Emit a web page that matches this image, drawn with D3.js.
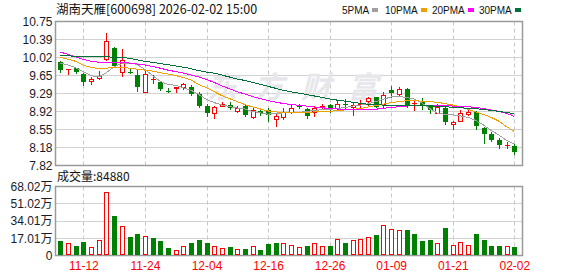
<!DOCTYPE html>
<html>
<head>
<meta charset="utf-8">
<script src="https://cdn.jsdelivr.net/npm/d3@7"></script>
<style>
  body { margin: 0; background: #fff; }
  svg { display: block; font-family: "Liberation Sans", "Noto Sans CJK SC", Arial, sans-serif; }
</style>
</head>
<body>
<svg id="chart" width="578" height="276"></svg>
<script>
// trading days shown (MM-DD)
const dates = ["11-07","11-10","11-11","11-12","11-13","11-14","11-17","11-18","11-19","11-20",
  "11-21","11-24","11-25","11-26","11-27","11-28","12-01","12-02","12-03","12-04",
  "12-05","12-08","12-09","12-10","12-11","12-12","12-15","12-16","12-17","12-18",
  "12-19","12-22","12-23","12-24","12-25","12-26","12-29","12-30","12-31","01-05",
  "01-06","01-07","01-08","01-09","01-12","01-13","01-14","01-15","01-16","01-19",
  "01-20","01-21","01-22","01-23","01-26","01-27","01-28","01-29","01-30","02-02"];

const openP = [9.92,9.78,9.80,9.69,9.54,9.60,9.99,10.21,9.73,9.715,
  9.66,9.31,9.575,9.51,9.33,9.405,9.42,9.42,9.285,9.03,
  8.885,9.04,9.05,8.93,9.04,8.81,8.93,8.945,8.775,8.80,
  8.90,9.025,8.97,8.905,9.03,9.06,8.98,9.08,9.005,9.07,
  9.13,9.205,9.07,9.35,9.27,9.37,9.095,9.13,9.04,8.89,
  8.99,8.66,8.73,8.865,8.90,8.59,8.47,8.33,8.23,8.21];
const highP = [9.94,9.78,9.81,9.70,9.625,9.74,10.51,10.23,10.20,9.80,
  9.77,9.77,9.66,9.53,9.39,9.41,9.495,9.46,9.31,9.075,
  9.035,9.12,9.115,9.035,9.06,8.98,8.97,8.99,8.87,8.98,
  9.055,9.07,8.99,9.04,9.075,9.08,9.15,9.18,9.12,9.155,
  9.22,9.22,9.32,9.43,9.41,9.40,9.17,9.19,9.05,9.08,
  9.035,8.73,8.95,8.94,8.925,8.60,8.50,8.37,8.29,8.25];
const lowP = [9.73,9.69,9.71,9.45,9.47,9.57,9.97,9.82,9.65,9.705,
  9.33,9.31,9.495,9.35,9.32,9.32,9.37,9.26,9.02,8.82,
  8.78,9.03,8.97,8.905,8.82,8.79,8.84,8.72,8.62,8.76,
  8.89,8.98,8.78,8.82,9.00,8.91,8.95,8.97,8.85,9.02,
  9.06,9.005,9.02,9.21,9.245,9.02,8.95,8.97,8.885,8.88,
  8.66,8.57,8.72,8.85,8.56,8.275,8.31,8.17,8.17,8.06];
const closeP = [9.77,9.78,9.72,9.52,9.59,9.645,10.36,9.835,9.97,9.705,
  9.42,9.69,9.58,9.37,9.32,9.41,9.47,9.285,9.04,8.885,
  9.007,9.08,9.00,9.00,8.84,8.95,8.88,8.85,8.83,8.90,
  8.995,9.02,8.83,9.00,9.04,8.98,9.075,9.07,9.05,9.10,
  9.20,9.02,9.255,9.29,9.385,9.055,9.10,9.05,8.945,9.02,
  8.70,8.71,8.89,8.91,8.62,8.465,8.335,8.235,8.24,8.09];

// volume in 万
const volume = [13.9,12.6,8.9,12.9,7.9,15.5,63.0,38.6,29.4,17.8,
  20.8,19.5,16.8,13.9,7.0,5.9,8.9,11.9,15.2,11.9,
  8.9,7.6,7.9,6.9,6.9,8.9,5.9,10.9,11.9,11.9,
  10.2,7.9,8.9,12.6,8.9,8.9,16.5,12.6,14.9,16.5,
  17.8,19.8,30.4,26.4,25.4,25.4,21.5,13.9,14.9,12.6,
  26.7,10.6,13.5,10.6,21.5,14.9,8.9,9.6,8.9,8.49];
// 1 = day closed up (red bar), 0 = down (green bar)
const volUp = [0,1,0,0,1,1,1,0,1,0, 0,1,0,0,0,1,1,0,0,0,
  1,1,0,1,0,1,0,0,0,1, 1,1,0,1,1,0,1,0,1,1,
  1,0,1,1,1,0,0,0,0,1, 0,1,1,1,0,0,0,0,1,0];

const ma5 = [9.90,9.865,9.81,9.73,9.65,9.62,9.71,9.83,9.895,9.905,
  9.875,9.775,9.65,9.53,9.47,9.45,9.40,9.35,9.265,9.165,
  9.10,9.05,9.02,8.99,8.97,8.92,8.89,8.865,8.88,8.89,
  8.90,8.90,8.92,8.94,8.955,8.96,8.98,9.00,9.03,9.05,
  9.075,9.12,9.17,9.215,9.225,9.205,9.17,9.09,8.98,8.885,
  8.86,8.85,8.83,8.80,8.735,8.645,8.53,8.44,8.33,8.255];
const ma10 = [10.02,9.98,9.94,9.86,9.82,9.79,9.80,9.82,9.82,9.80,
  9.78,9.76,9.74,9.71,9.68,9.65,9.61,9.56,9.47,9.40,
  9.32,9.24,9.18,9.12,9.06,9.01,8.97,8.93,8.91,8.90,
  8.90,8.90,8.90,8.91,8.915,8.92,8.94,8.95,8.96,8.98,
  9.01,9.04,9.07,9.10,9.12,9.14,9.135,9.13,9.12,9.105,
  9.08,9.05,9.01,8.96,8.91,8.86,8.80,8.72,8.61,8.51];
const ma20 = [10.13,10.08,10.03,9.98,9.94,9.92,9.91,9.92,9.92,9.905,
  9.885,9.865,9.835,9.80,9.76,9.73,9.70,9.66,9.62,9.57,
  9.51,9.44,9.38,9.32,9.275,9.22,9.18,9.14,9.11,9.08,
  9.06,9.045,9.03,9.01,8.995,8.98,8.97,8.96,8.955,8.955,
  8.96,8.965,8.985,9.00,9.015,9.03,9.04,9.045,9.045,9.04,
  9.035,9.03,9.025,9.015,9.00,8.98,8.95,8.92,8.88,8.82];
const ma30 = [10.05,10.05,10.045,10.04,10.04,10.035,10.03,10.025,10.02,10.00,
  9.97,9.94,9.92,9.895,9.87,9.845,9.82,9.79,9.75,9.72,
  9.70,9.66,9.62,9.58,9.55,9.51,9.47,9.43,9.39,9.35,
  9.32,9.29,9.265,9.235,9.205,9.175,9.15,9.13,9.105,9.085,
  9.065,9.055,9.05,9.045,9.04,9.045,9.045,9.04,9.035,9.025,
  9.015,9.005,8.995,8.985,8.975,8.96,8.94,8.92,8.90,8.875];

const priceTicks = [7.82, 8.18, 8.55, 8.92, 9.29, 9.65, 10.02, 10.39, 10.75];
const volTicks = [0, 17.01, 34.01, 51.02, 68.02];
const dateTicks = ["11-12","11-24","12-04","12-16","12-26","01-09","01-21","02-02"];
const maNames = ["5PMA", "10PMA", "20PMA", "30PMA"];

const titleText = "湖南天雁[600698] 2026-02-02 15:00";
const volLabel = "成交量:84880";

// ---- layout ----
const svg = d3.select("#chart");
const plotL = 55.5, plotR = 522.5;
const kTop = 21.5, kBot = 165.5;   // candle panel
const vTop = 186.5, vBot = 255.5;  // volume panel

const RED = "#ff0000", GREEN = "#008000";
const maColors = ["#a0a0a0", "#f0a000", "#ff00ff", "#006f3a"];

const x = d3.scalePoint().domain(dates).range([60.3, 514.3]);
const y = d3.scaleLinear().domain([7.82, 10.75]).range([kBot, kTop]);
const yv = d3.scaleLinear().domain([0, 68.02]).range([vBot, vTop]);

const cxOf = d => Math.round(x(d));
const snap = v => Math.floor(v) + 0.5;

// horizontal grid
const grid = svg.append("g").attr("stroke", "#d2d2d2").attr("stroke-width", 1);
grid.selectAll(".hk").data(priceTicks).join("line")
  .attr("x1", plotL).attr("x2", plotR)
  .attr("y1", d => snap(y(d))).attr("y2", d => snap(y(d)));
grid.selectAll(".hv").data(volTicks).join("line")
  .attr("x1", plotL).attr("x2", plotR)
  .attr("y1", d => snap(yv(d))).attr("y2", d => snap(yv(d)));

// vertical dashed grid at labelled dates
[[kTop, kBot], [vTop, vBot]].forEach(([t, b]) => {
  svg.append("g").selectAll("line").data(dateTicks).join("line")
    .attr("x1", d => cxOf(d) + 0.5).attr("x2", d => cxOf(d) + 0.5)
    .attr("y1", t).attr("y2", b)
    .attr("stroke", "#c8c8c8").attr("stroke-dasharray", "4,3");
});

// watermark
svg.append("text")
  .attr("x", 207).attr("y", 98)
  .attr("font-family", "Noto Sans CJK SC").attr("font-size", 30).attr("font-weight", "bold")
  .attr("font-style", "italic")
  .attr("fill", "#e6e6eb")
  .attr("textLength", 171).attr("lengthAdjust", "spacing")
  .text("东方财富");

// panel borders
[[kTop, kBot], [vTop, vBot]].forEach(([t, b]) => {
  svg.append("rect")
    .attr("x", plotL).attr("y", t)
    .attr("width", plotR - plotL).attr("height", b - t)
    .attr("fill", "none").attr("stroke", "#9a9a9a").attr("stroke-width", 1.5);
});

const bars = dates.map((d, i) => ({
  date: d, o: openP[i], h: highP[i], l: lowP[i], c: closeP[i],
  v: volume[i], up: volUp[i] === 1
}));

// candles
svg.append("g").selectAll("g").data(bars).join("g")
  .each(function(b) {
    const g = d3.select(this);
    const cx = cxOf(b.date);
    const yo = Math.round(y(b.o)), yc = Math.round(y(b.c));
    const yh = Math.round(y(b.h)), yl = Math.round(y(b.l));
    if (b.c >= b.o) {
      if (yo - yc <= 0) {
        // cross / T shape
        g.append("line").attr("x1", cx + 0.5).attr("x2", cx + 0.5).attr("y1", yh).attr("y2", yl + 1)
          .attr("stroke", RED);
        g.append("line").attr("x1", cx - 2).attr("x2", cx + 3).attr("y1", yc + 0.5).attr("y2", yc + 0.5)
          .attr("stroke", RED);
      } else {
        g.append("line").attr("x1", cx + 0.5).attr("x2", cx + 0.5).attr("y1", yh).attr("y2", yc)
          .attr("stroke", RED);
        g.append("line").attr("x1", cx + 0.5).attr("x2", cx + 0.5).attr("y1", yo).attr("y2", yl + 1)
          .attr("stroke", RED);
        g.append("rect").attr("x", cx - 1.5).attr("y", yc + 0.5)
          .attr("width", 4).attr("height", yo - yc)
          .attr("fill", "#fff").attr("stroke", RED);
      }
    } else {
      g.append("line").attr("x1", cx + 0.5).attr("x2", cx + 0.5).attr("y1", yh).attr("y2", yl + 1)
        .attr("stroke", GREEN);
      g.append("rect").attr("x", cx - 2).attr("y", yo)
        .attr("width", 5).attr("height", Math.max(yc - yo, 1))
        .attr("fill", GREEN);
    }
  });

// volume bars
svg.append("g").selectAll("g").data(bars).join("g")
  .each(function(b) {
    const g = d3.select(this);
    const cx = cxOf(b.date);
    const top = Math.round(yv(b.v));
    if (b.up) {
      g.append("rect").attr("x", cx - 1.5).attr("y", top + 0.5)
        .attr("width", 4).attr("height", Math.floor(vBot) - top - 1)
        .attr("fill", "#fff").attr("stroke", RED);
    } else {
      g.append("rect").attr("x", cx - 2).attr("y", top)
        .attr("width", 5).attr("height", Math.floor(vBot) - top)
        .attr("fill", GREEN);
    }
  });

// moving averages
const maSeries = [ma5, ma10, ma20, ma30];
const line = d3.line().x((d, i) => x(dates[i])).y(d => y(d));
svg.append("g").selectAll("path").data(maSeries).join("path")
  .attr("d", line)
  .attr("fill", "none")
  .attr("stroke", (d, i) => maColors[i])
  .attr("stroke-width", 1)
  .attr("shape-rendering", "crispEdges");

// axes
const yAxis = d3.axisLeft(y).tickValues(priceTicks).tickFormat(d3.format(".2f"))
  .tickSize(0).tickPadding(3);
svg.append("g").attr("transform", `translate(${plotL},0)`).call(yAxis)
  .call(g => g.select(".domain").remove())
  .attr("font-size", 12).attr("font-family", "Liberation Sans, Arial, sans-serif")
  .selectAll("text").attr("fill", "#1a1a2a");

const vAxis = d3.axisLeft(yv).tickValues(volTicks)
  .tickFormat(d => d === 0 ? "0" : d3.format(".2f")(d) + "万")
  .tickSize(0).tickPadding(3);
svg.append("g").attr("transform", `translate(${plotL},0)`).call(vAxis)
  .call(g => g.select(".domain").remove())
  .attr("font-size", 12).attr("font-family", "Liberation Sans, Noto Sans CJK SC, sans-serif")
  .selectAll("text").attr("fill", "#1a1a2a");

const xAxis = d3.axisBottom(x).tickValues(dateTicks).tickSize(0).tickPadding(6);
svg.append("g").attr("transform", `translate(0,${vBot})`).call(xAxis)
  .call(g => g.select(".domain").remove())
  .attr("font-size", 12).attr("font-family", "Liberation Sans, Arial, sans-serif")
  .selectAll("text").attr("fill", RED);

// title and volume label
svg.append("text").attr("x", 56).attr("y", 14)
  .attr("font-family", "Noto Sans CJK SC").attr("font-size", 12.5).attr("fill", "#111")
  .text(titleText);
svg.append("text").attr("x", 57).attr("y", 181)
  .attr("font-family", "Noto Sans CJK SC").attr("font-size", 12).attr("fill", "#111")
  .text(volLabel);

// legend
const legendX = [342, 385, 432, 479];
const legend = svg.append("g").attr("font-size", 10).attr("fill", "#111")
  .attr("font-family", "Liberation Sans Narrow, Liberation Sans, Arial, sans-serif");
maNames.forEach((name, i) => {
  const t = legend.append("text").attr("x", legendX[i]).attr("y", 14).text(name);
  const w = t.node().getComputedTextLength();
  legend.append("rect").attr("x", Math.round(legendX[i] + w + 3)).attr("y", 8)
    .attr("width", 6).attr("height", 4).attr("fill", maColors[i]);
});
</script>
</body>
</html>
